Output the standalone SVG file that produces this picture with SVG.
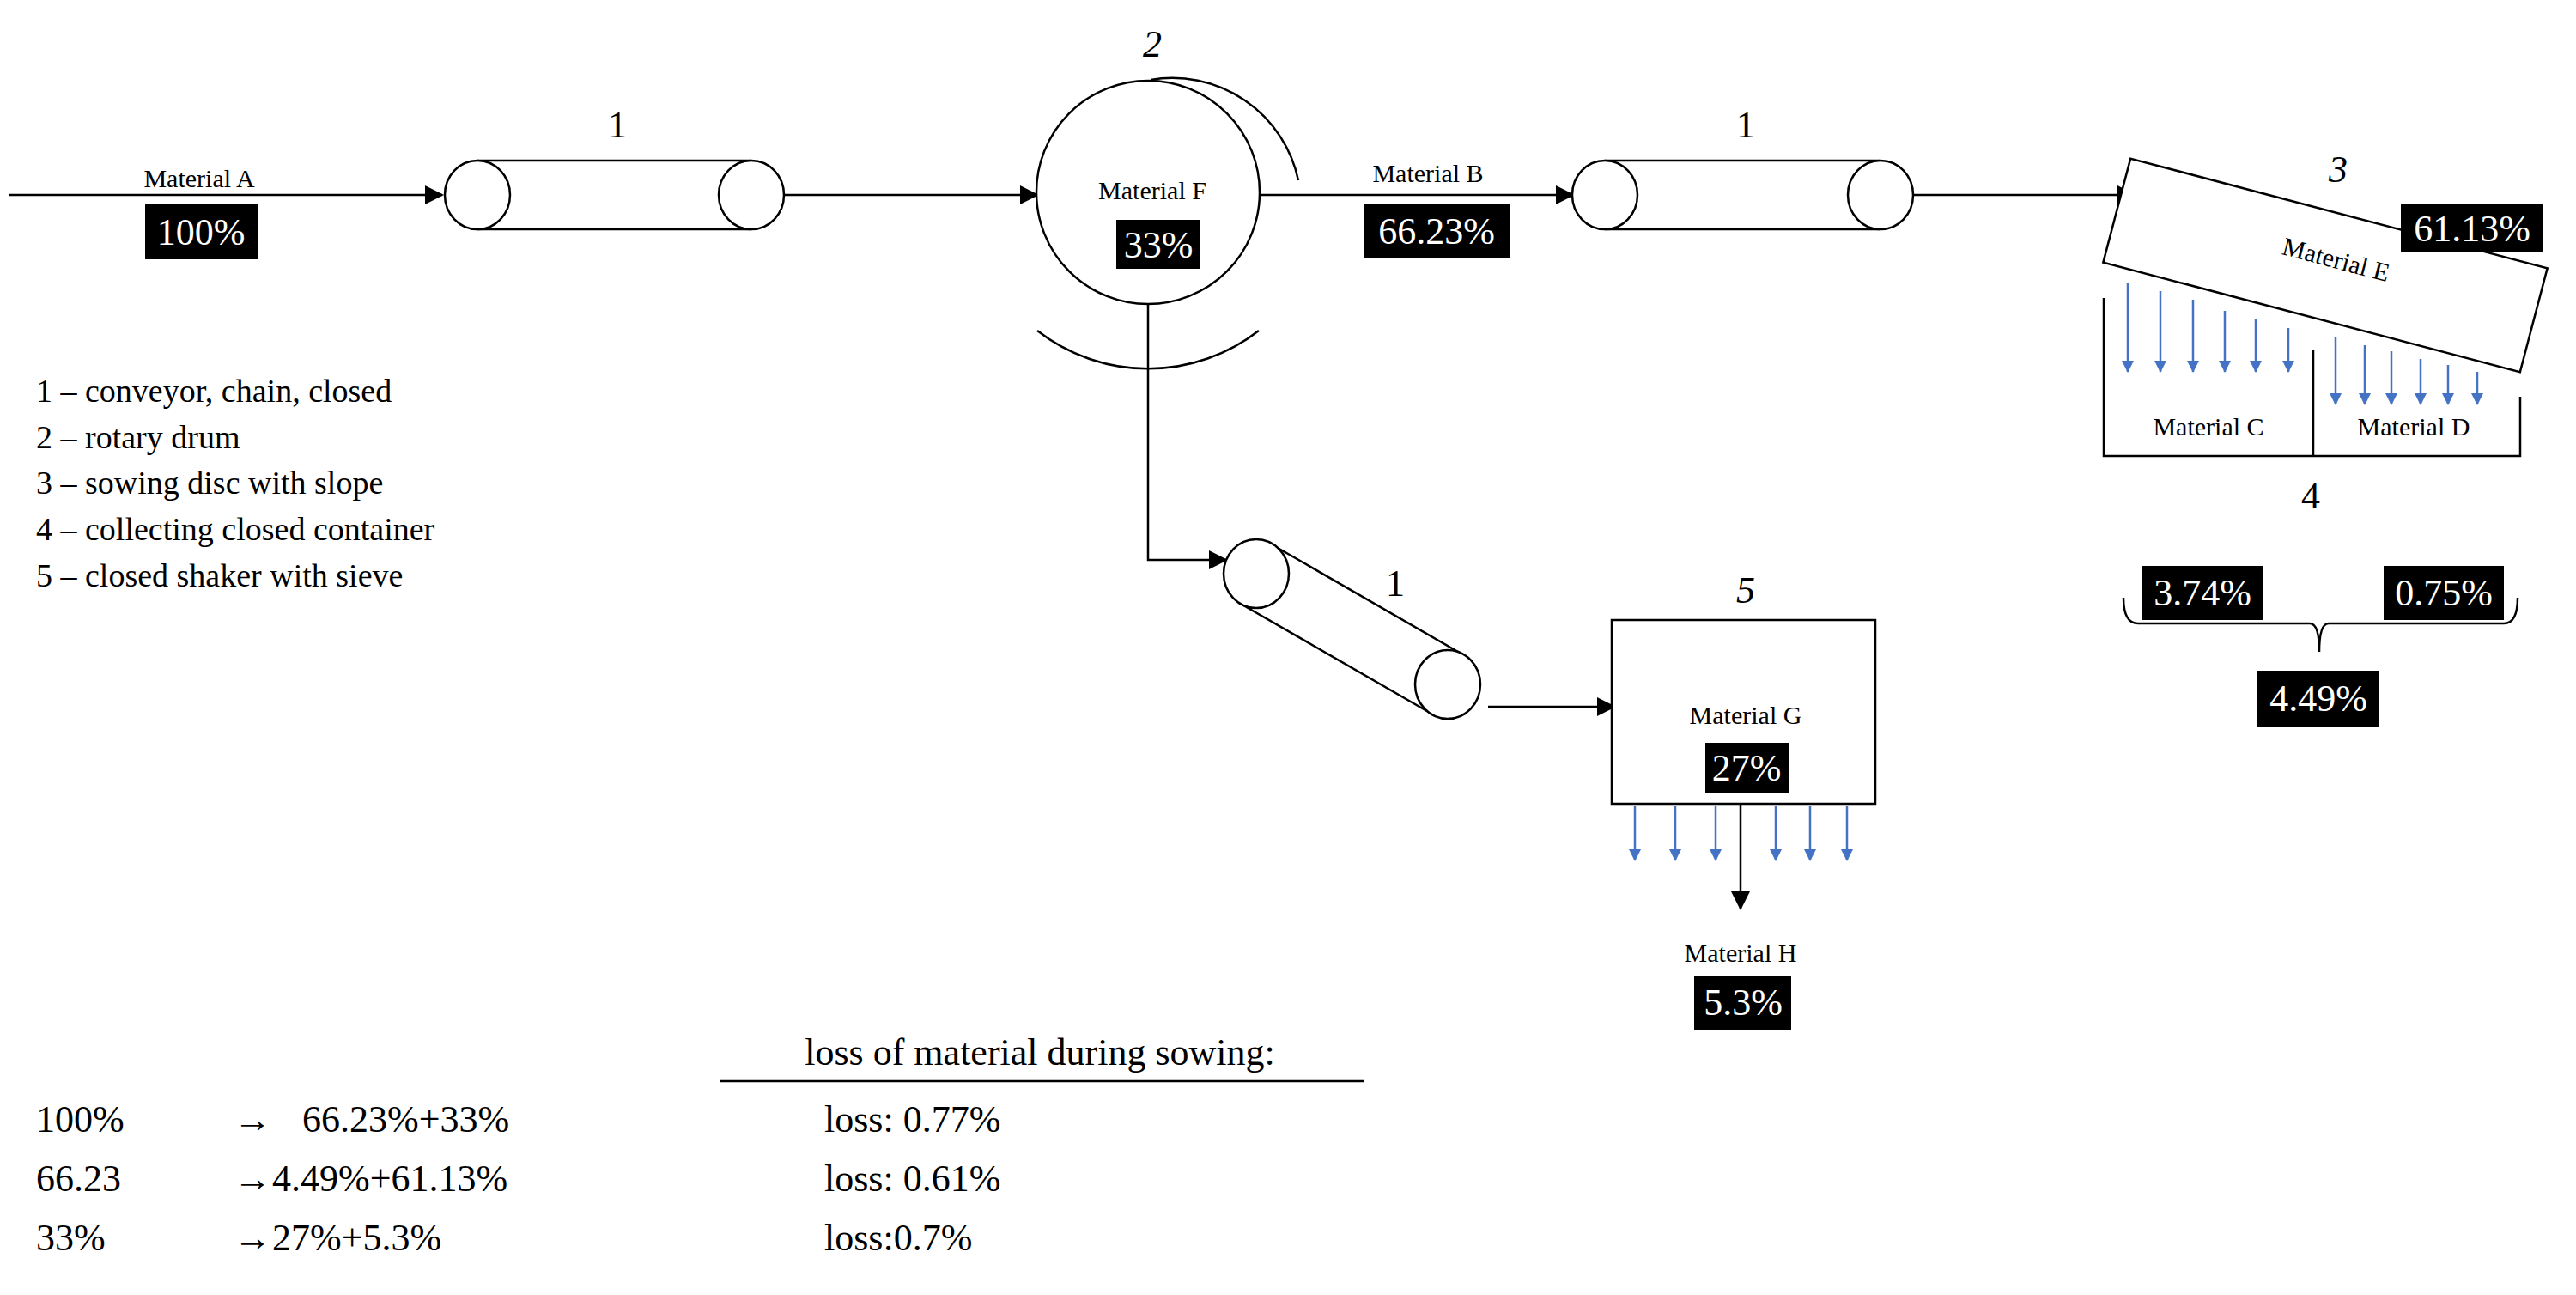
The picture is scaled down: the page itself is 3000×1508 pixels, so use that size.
<svg xmlns="http://www.w3.org/2000/svg" width="3000" height="1508" viewBox="0 0 3000 1508">
<style>
text{font-family:"Liberation Serif","Times New Roman",serif;fill:#000}
.s{fill:none;stroke:#000;stroke-width:2.5}
.w{fill:#fff;stroke:#000;stroke-width:2.5}
.c{stroke:#000;stroke-width:2.5;fill:none}
.b{stroke:#4472C4;stroke-width:2.5;fill:none}
.m{font-size:30px;text-anchor:middle}
.n{font-size:44px;text-anchor:middle;font-style:italic}
.p{font-size:44px;text-anchor:middle;fill:#fff}
.l{font-size:38px}
.r{font-size:44px}
</style>
<defs>
<marker id="a" markerWidth="10" markerHeight="10" refX="9" refY="5" orient="auto" markerUnits="userSpaceOnUse" viewBox="0 0 10 10"><path d="M0,0 L10,5 L0,10z" fill="#000"/></marker>
<marker id="ab" markerWidth="14" markerHeight="18" refX="13" refY="7" orient="auto" markerUnits="userSpaceOnUse" viewBox="0 0 14 14"><path d="M0,0 L14,7 L0,14z" fill="#4472C4"/></marker>
<marker id="ak" markerWidth="22" markerHeight="22" refX="20" refY="11" orient="auto" markerUnits="userSpaceOnUse" viewBox="0 0 22 22"><path d="M0,0 L22,11 L0,22z" fill="#000"/></marker>
</defs>
<rect width="3000" height="1508" fill="#fff"/>
<g id="connectors">
<line class="c" x1="10" y1="227" x2="515" y2="227" marker-end="url(#ak)"/>
<line class="c" x1="913" y1="227" x2="1208" y2="227" marker-end="url(#ak)"/>
<line class="c" x1="1467" y1="227" x2="1832" y2="227" marker-end="url(#ak)"/>
<line class="c" x1="2228" y1="227" x2="2486" y2="227" marker-end="url(#ak)"/>
<polyline class="c" points="1337,354 1337,652 1428,652" marker-end="url(#ak)"/>
<line class="c" x1="1733" y1="823" x2="1880" y2="823" marker-end="url(#ak)"/>
<line class="c" x1="2027" y1="936" x2="2027" y2="1058" marker-end="url(#ak)"/>
</g>
<g id="input">
<text class="m" x="232" y="218">Material A</text>
<rect x="169" y="238" width="131" height="64"/><text class="p" x="234" y="285">100%</text>
</g>
<g id="conveyor1">
<line class="s" x1="556" y1="187" x2="875" y2="187"/><line class="s" x1="556" y1="267" x2="875" y2="267"/>
<ellipse class="w" cx="556" cy="227" rx="38" ry="40"/><ellipse class="w" cx="875" cy="227" rx="38" ry="40"/>
<text class="n" x="719" y="160" style="font-style:normal">1</text>
</g>
<g id="drum">
<circle class="w" cx="1337" cy="224" r="130"/>
<path class="s" d="M1340,93 A150,150 0 0 1 1512,210"/>
<path class="s" d="M1208,385 A210,210 0 0 0 1466,385"/>
<text class="n" x="1342" y="66">2</text>
<text class="m" x="1342" y="232">Material F</text>
<rect x="1300" y="256" width="98" height="57"/><text class="p" x="1349" y="300">33%</text>
</g>
<g id="materialB">
<text class="m" x="1663" y="212">Material B</text>
<rect x="1588" y="238" width="170" height="62"/><text class="p" x="1673" y="284">66.23%</text>
</g>
<g id="conveyor2">
<line class="s" x1="1869" y1="187" x2="2190" y2="187"/><line class="s" x1="1869" y1="267" x2="2190" y2="267"/>
<ellipse class="w" cx="1869" cy="227" rx="38" ry="40"/><ellipse class="w" cx="2190" cy="227" rx="38" ry="40"/>
<text class="n" x="2033" y="160" style="font-style:normal">1</text>
</g>
<g id="disc">
<rect class="w" x="2457" y="246.5" width="502" height="125" transform="rotate(14.75 2708 309)"/>
<text class="m" x="2718" y="312" transform="rotate(14.75 2718 312)">Material E</text>
<text class="n" x="2723" y="212">3</text>
<rect x="2796" y="238" width="166" height="56"/><text class="p" x="2879" y="281">61.13%</text>
<line class="b" x1="2478" y1="330" x2="2478" y2="433" marker-end="url(#ab)"/>
<line class="b" x1="2516" y1="339" x2="2516" y2="433" marker-end="url(#ab)"/>
<line class="b" x1="2554" y1="349" x2="2554" y2="433" marker-end="url(#ab)"/>
<line class="b" x1="2591" y1="362" x2="2591" y2="433" marker-end="url(#ab)"/>
<line class="b" x1="2627" y1="372" x2="2627" y2="433" marker-end="url(#ab)"/>
<line class="b" x1="2665" y1="382" x2="2665" y2="433" marker-end="url(#ab)"/>
<line class="b" x1="2720" y1="393" x2="2720" y2="471" marker-end="url(#ab)"/>
<line class="b" x1="2754" y1="402" x2="2754" y2="471" marker-end="url(#ab)"/>
<line class="b" x1="2785" y1="409" x2="2785" y2="471" marker-end="url(#ab)"/>
<line class="b" x1="2819" y1="418" x2="2819" y2="471" marker-end="url(#ab)"/>
<line class="b" x1="2851" y1="425" x2="2851" y2="471" marker-end="url(#ab)"/>
<line class="b" x1="2885" y1="433" x2="2885" y2="471" marker-end="url(#ab)"/>
</g>
<g id="container">
<polyline class="s" points="2450,347 2450,531 2935,531 2935,462"/>
<line class="s" x1="2694" y1="408" x2="2694" y2="531"/>
<text class="m" x="2572" y="507">Material C</text>
<text class="m" x="2811" y="507">Material D</text>
<text class="n" x="2691" y="592" style="font-style:normal">4</text>
<rect x="2495" y="659" width="141" height="63"/><text class="p" x="2565" y="705">3.74%</text>
<rect x="2776" y="659" width="140" height="63"/><text class="p" x="2846" y="705">0.75%</text>
<path class="s" d="M2473,696 Q2473,726 2490,726 L2690,726 Q2701,726 2701,759 Q2701,726 2712,726 L2916,726 Q2932,726 2932,696"/>
<rect x="2629" y="781" width="141" height="65"/><text class="p" x="2700" y="828">4.49%</text>
</g>
<g id="conveyor3">
<line class="s" x1="1481" y1="634" x2="1705" y2="763"/><line class="s" x1="1443" y1="702" x2="1667" y2="831"/>
<ellipse class="w" cx="1463" cy="668" rx="38" ry="40"/><ellipse class="w" cx="1686" cy="797" rx="38" ry="40"/>
<text class="n" x="1625" y="694" style="font-style:normal">1</text>
</g>
<g id="shaker">
<rect class="w" x="1877" y="722" width="307" height="214"/>
<text class="n" x="2033" y="702">5</text>
<text class="m" x="2033" y="843">Material G</text>
<rect x="1986" y="865" width="97" height="58"/><text class="p" x="2034" y="909">27%</text>
<line class="b" x1="1904" y1="938" x2="1904" y2="1002" marker-end="url(#ab)"/>
<line class="b" x1="1951" y1="938" x2="1951" y2="1002" marker-end="url(#ab)"/>
<line class="b" x1="1998" y1="938" x2="1998" y2="1002" marker-end="url(#ab)"/>
<line class="b" x1="2068" y1="938" x2="2068" y2="1002" marker-end="url(#ab)"/>
<line class="b" x1="2108" y1="938" x2="2108" y2="1002" marker-end="url(#ab)"/>
<line class="b" x1="2151" y1="938" x2="2151" y2="1002" marker-end="url(#ab)"/>
</g>
<g id="materialH">
<text class="m" x="2027" y="1120">Material H</text>
<rect x="1973" y="1136" width="113" height="63"/><text class="p" x="2030" y="1182">5.3%</text>
</g>
<g id="legend">
<text class="l" x="42" y="468">1 – conveyor, chain, closed</text>
<text class="l" x="42" y="522">2 – rotary drum</text>
<text class="l" x="42" y="575">3 – sowing disc with slope</text>
<text class="l" x="42" y="629">4 – collecting closed container</text>
<text class="l" x="42" y="683">5 – closed shaker with sieve</text>
</g>
<g id="summary">
<text class="r" x="1211" y="1240" text-anchor="middle">loss of  material during sowing:</text>
<line class="s" x1="838" y1="1259" x2="1588" y2="1259"/>
<text class="r" x="42" y="1318">100%</text><text class="r" x="272" y="1318">→</text><text class="r" x="352" y="1318">66.23%+33%</text><text class="r" x="960" y="1318">loss: 0.77%</text>
<text class="r" x="42" y="1387">66.23</text><text class="r" x="272" y="1387">→</text><text class="r" x="317" y="1387">4.49%+61.13%</text><text class="r" x="960" y="1387">loss: 0.61%</text>
<text class="r" x="42" y="1456">33%</text><text class="r" x="272" y="1456">→</text><text class="r" x="317" y="1456">27%+5.3%</text><text class="r" x="960" y="1456">loss:0.7%</text>
</g>
</svg>
